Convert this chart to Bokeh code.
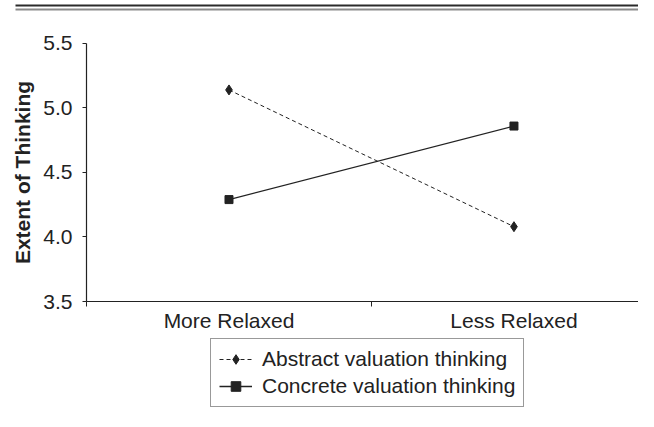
from bokeh.plotting import figure
from bokeh.models import (Range1d, FixedTicker, PrintfTickFormatter, Legend, LegendItem,
                          ColumnDataSource, BoxAnnotation)
from bokeh.embed import file_html
from bokeh.resources import INLINE

# ---- data ----
conditions = ["More Relaxed", "Less Relaxed"]
abstract_vals = [5.14, 4.08]
concrete_vals = [4.29, 4.86]
series_names = ["Abstract valuation thinking", "Concrete valuation thinking"]
y_ticks = [3.5, 4.0, 4.5, 5.0, 5.5]
y_label = "Extent of Thinking"

FONT = "Liberation Sans"
INK = "#222222"

xpos = [i + 0.5 for i in range(len(conditions))]
boundaries = [float(i) for i in range(len(conditions) + 1)]

W, H = 638, 411
# the frame fills the whole canvas; axes are pinned at fixed locations
p = figure(width=W, height=H, output_backend="svg", toolbar_location=None,
           x_range=Range1d(-0.3018, 1.937), y_range=Range1d(2.6473, 5.8333),
           min_border=0, min_border_left=0, min_border_right=0,
           min_border_top=0, min_border_bottom=0)
p.outline_line_color = None
p.xgrid.visible = False
p.ygrid.visible = False
p.background_fill_color = "white"
p.border_fill_color = "white"

src_a = ColumnDataSource(dict(x=xpos, y=abstract_vals))
src_c = ColumnDataSource(dict(x=xpos, y=concrete_vals))

la = p.line("x", "y", source=src_a, line_color=INK, line_width=1, line_dash="4 3")
ma = p.scatter("x", "y", source=src_a, marker="diamond", size=10, fill_color=INK, line_color=INK)
lc = p.line("x", "y", source=src_c, line_color=INK, line_width=1.3)
mc = p.scatter("x", "y", source=src_c, marker="square", size=8, fill_color=INK, line_color=INK)

# x axis: labels at category centres, tick marks at category boundaries
xa = p.xaxis[0]
xa.fixed_location = y_ticks[0]
xa.bounds = (boundaries[0], boundaries[-1])
xa.ticker = FixedTicker(ticks=xpos, minor_ticks=boundaries)
xa.major_label_overrides = {x: c for x, c in zip(xpos, conditions)}
xa.major_tick_out = 0
xa.major_tick_in = 0
xa.minor_tick_out = 5
xa.minor_tick_in = 0
xa.minor_tick_line_color = INK
xa.axis_line_color = INK
xa.axis_line_width = 1.2
xa.major_label_standoff = 2
xa.major_label_text_font = FONT
xa.major_label_text_font_size = "21px"
xa.major_label_text_color = INK

ya = p.yaxis[0]
ya.fixed_location = boundaries[0]
ya.bounds = (y_ticks[0], y_ticks[-1])
ya.ticker = FixedTicker(ticks=y_ticks)
ya.formatter = PrintfTickFormatter(format="%.1f")
ya.major_tick_out = 4
ya.major_tick_in = 0
ya.minor_tick_out = 0
ya.minor_tick_in = 0
ya.axis_line_color = INK
ya.axis_line_width = 1.2
ya.major_tick_line_color = INK
ya.major_label_standoff = 10
ya.major_label_text_font = FONT
ya.major_label_text_font_size = "21px"
ya.major_label_text_color = INK
ya.axis_label = y_label
ya.axis_label_text_font = FONT
ya.axis_label_text_font_size = "21px"
ya.axis_label_text_font_style = "bold"
ya.axis_label_text_color = INK
ya.axis_label_standoff = 6

legend = Legend(items=[LegendItem(label=series_names[0], renderers=[la, ma]),
                       LegendItem(label=series_names[1], renderers=[lc, mc])],
                location=(210, 4))
legend.border_line_color = "#333333"
legend.border_line_width = 1
legend.background_fill_color = "white"
legend.background_fill_alpha = 1
legend.label_text_font = FONT
legend.label_text_font_size = "21px"
legend.label_text_color = INK
legend.glyph_width = 33
legend.glyph_height = 24
legend.label_height = 24
legend.label_standoff = 10
legend.spacing = 3
legend.padding = 8
legend.margin = 0
p.add_layout(legend, "center")

# double rule at the top of the page (screen units, measured from the frame bottom)
for top, bottom, colour in [(407, 405, "#2a2a2a"), (403, 401, "#8a8a8a")]:
    p.add_layout(BoxAnnotation(left=15, right=W, top=top, bottom=bottom,
                               left_units="screen", right_units="screen",
                               top_units="screen", bottom_units="screen",
                               fill_color=colour, fill_alpha=1, line_color=None))

open("out.html", "w").write(file_html(p, INLINE))
